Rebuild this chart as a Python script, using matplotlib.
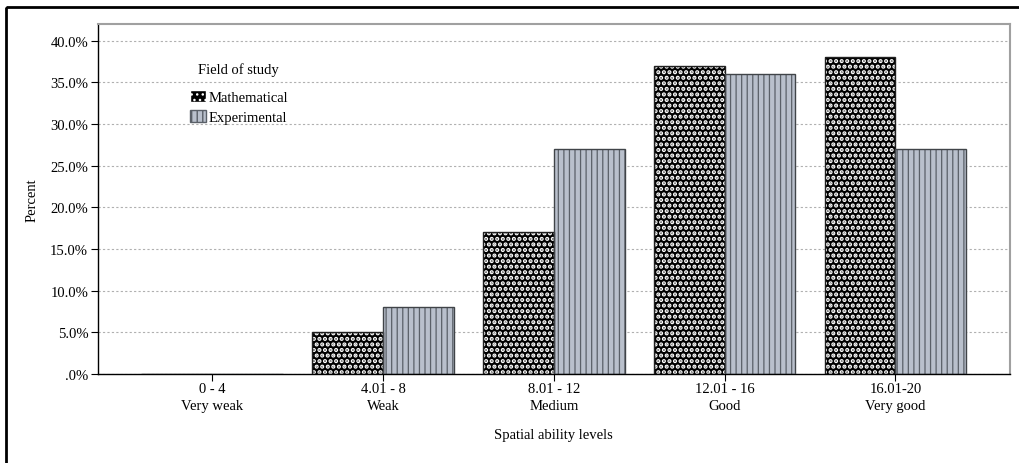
import numpy as np
import matplotlib as mpl
import matplotlib.pyplot as plt
from matplotlib.patches import Rectangle, Patch
from matplotlib.ticker import FuncFormatter

levels = ['0 - 4\nVery weak', '4.01 - 8\nWeak', '8.01 - 12\nMedium',
          '12.01 - 16\nGood', '16.01-20\nVery good']
mathematical = [0, 5, 17, 37, 38]
experimental = [0, 8, 27, 36, 27]

plt.rcParams['font.family'] = ['Liberation Serif', 'DejaVu Serif']

fig = plt.figure(figsize=(10.2, 4.64), dpi=100)
ax = fig.add_axes([0.096, 0.192, 0.894, 0.754])

# outer frame of the picture
fig.patches.append(Rectangle((0.006, 0.983), 1.1, -1.1, transform=fig.transFigure,
                             fill=False, edgecolor='black', linewidth=2, clip_on=False))

x = np.arange(len(levels))
w = 0.415
fs = 10.5

# checkerboard bars: black fill with white dots, then a black outline
with mpl.rc_context({'hatch.linewidth': 2.1}):
    ax.bar(x - w/2, mathematical, width=w, color='black', hatch='...',
           edgecolor='white', linewidth=0, zorder=2)
    h_math = Patch(facecolor='black', hatch='...', edgecolor='white')
ax.bar(x - w/2, mathematical, width=w, fill=False, edgecolor='#202020',
       linewidth=1, zorder=3)
# striped bars
with mpl.rc_context({'hatch.linewidth': 0.9}):
    ax.bar(x + w/2, experimental, width=w, color='#b9c0cc', hatch='|||',
           edgecolor='#5a6068', linewidth=0, zorder=2)
    h_exp = Patch(facecolor='#b9c0cc', hatch='|||', edgecolor='#5a6068')
ax.bar(x + w/2, experimental, width=w, fill=False, edgecolor='#404448',
       linewidth=1, zorder=3)

ax.set_xlim(-0.67, 4.67)
ax.set_ylim(0, 42)
ax.set_yticks(np.arange(0, 41, 5))
ax.yaxis.set_major_formatter(FuncFormatter(lambda v, p: '.0%' if v == 0 else '{:.1f}%'.format(v)))
ax.set_xticks(x)
ax.set_xticklabels(levels, linespacing=1.35)
ax.tick_params(axis='both', labelsize=fs, length=5, color='black', direction='out')
ax.tick_params(axis='y', pad=2)
ax.tick_params(axis='x', pad=1)
ax.grid(axis='y', color='#b0b0b0', linestyle=(0, (2, 2)), linewidth=0.8, zorder=0)
ax.set_axisbelow(True)

for s in ['top', 'right']:
    ax.spines[s].set_color('#a0a0a0')
    ax.spines[s].set_linewidth(1.5)
for s in ['left', 'bottom']:
    ax.spines[s].set_color('black')
    ax.spines[s].set_linewidth(1)

ax.set_ylabel('Percent', fontsize=fs, labelpad=8)
ax.set_xlabel('Spatial ability levels', fontsize=fs, labelpad=12)

# legend title drawn on its own, legend entries below it
ax.text(0.1095, 0.871, 'Field of study', transform=ax.transAxes, fontsize=fs,
        ha='left', va='center')
leg = ax.legend([h_math, h_exp], ['Mathematical', 'Experimental'],
                loc='upper left', bbox_to_anchor=(0.093, 0.833), frameon=False,
                fontsize=fs, handlelength=1.1, handleheight=0.9,
                handletextpad=0.2, labelspacing=0.4, borderpad=0)

fig.savefig('out.png', dpi=100)
